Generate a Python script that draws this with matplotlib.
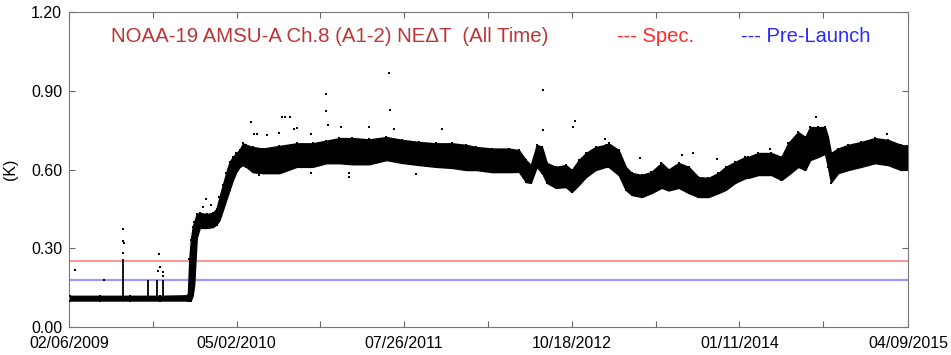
import numpy as np
import matplotlib
matplotlib.use("Agg")
import matplotlib.pyplot as plt

plt.rcParams["font.family"] = ["Liberation Sans", "DejaVu Sans"]

start = np.datetime64("2009-02-06")

# dense NEdT band: day offset from 02/06/2009, lower / upper edge of the cloud (K)
band_day = [3, 83, 163, 244, 319, 323, 327, 332, 336, 343, 351, 370, 386, 396,
            404, 413, 422, 431, 440, 449, 458, 467, 476, 493, 520, 565, 611, 654,
            691, 726, 761, 806, 852, 895, 940, 986, 1029, 1066, 1093, 1136, 1181,
            1208, 1227, 1240, 1256, 1270, 1283, 1307, 1334, 1350, 1369, 1388, 1414,
            1441, 1449, 1476, 1495, 1511, 1538, 1564, 1591, 1610, 1637, 1664, 1690,
            1717, 1744, 1763, 1789, 1816, 1824, 1851, 1886, 1913, 1931, 1958, 1977,
            1990, 2012, 2030, 2038, 2046, 2065, 2092, 2127, 2164, 2199, 2234, 2250]
band_lo = [0.100, 0.100, 0.100, 0.100, 0.100, 0.100, 0.100, 0.120, 0.160, 0.340,
           0.377, 0.377, 0.380, 0.390, 0.407, 0.445, 0.484, 0.522, 0.560, 0.590,
           0.610, 0.617, 0.610, 0.590, 0.586, 0.586, 0.610, 0.610, 0.624, 0.624,
           0.620, 0.620, 0.636, 0.625, 0.617, 0.610, 0.606, 0.598, 0.598, 0.590,
           0.590, 0.591, 0.552, 0.549, 0.610, 0.587, 0.549, 0.530, 0.533, 0.514,
           0.541, 0.571, 0.598, 0.610, 0.610, 0.579, 0.522, 0.503, 0.495, 0.510,
           0.530, 0.520, 0.530, 0.510, 0.495, 0.495, 0.510, 0.522, 0.549, 0.567,
           0.568, 0.579, 0.579, 0.560, 0.579, 0.610, 0.598, 0.636, 0.648, 0.660,
           0.610, 0.550, 0.586, 0.598, 0.610, 0.624, 0.617, 0.598, 0.600]
band_hi = [0.118, 0.118, 0.118, 0.118, 0.120, 0.260, 0.330, 0.380, 0.400, 0.430,
           0.434, 0.430, 0.435, 0.450, 0.495, 0.541, 0.587, 0.629, 0.648, 0.663,
           0.675, 0.700, 0.694, 0.686, 0.680, 0.690, 0.700, 0.700, 0.710, 0.720,
           0.720, 0.715, 0.724, 0.713, 0.705, 0.700, 0.700, 0.694, 0.686, 0.680,
           0.680, 0.674, 0.636, 0.617, 0.694, 0.686, 0.625, 0.610, 0.617, 0.598,
           0.636, 0.663, 0.686, 0.694, 0.700, 0.674, 0.610, 0.587, 0.579, 0.591,
           0.625, 0.600, 0.625, 0.610, 0.571, 0.568, 0.587, 0.610, 0.629, 0.648,
           0.648, 0.663, 0.663, 0.648, 0.700, 0.743, 0.724, 0.762, 0.762, 0.762,
           0.724, 0.663, 0.680, 0.694, 0.705, 0.720, 0.713, 0.694, 0.690]

# early spikes (vertical clusters of points)
spike_day = [145, 212, 236, 253]
spike_lo = [0.11, 0.11, 0.11, 0.11]
spike_hi = [0.26, 0.18, 0.18, 0.178]

# isolated points
out_day = [17, 94, 145, 145, 147, 145, 242, 244, 238, 253, 253, 361, 369, 382,
           488, 496, 504, 509, 532, 563, 571, 580, 594, 604, 613, 650, 650, 690,
           690, 696, 730, 753, 753, 806, 860, 862, 873, 931, 1001, 1272, 1272,
           1353, 1360, 1438, 1534, 1645, 1675, 1739, 1882, 2007, 2196]
out_val = [0.215, 0.177, 0.373, 0.327, 0.320, 0.280, 0.276, 0.229, 0.212, 0.207,
           0.195, 0.456, 0.486, 0.465, 0.780, 0.734, 0.734, 0.579, 0.730, 0.738,
           0.800, 0.800, 0.800, 0.755, 0.760, 0.734, 0.588, 0.888, 0.823, 0.770,
           0.763, 0.570, 0.585, 0.763, 0.970, 0.827, 0.755, 0.583, 0.753, 0.903,
           0.750, 0.763, 0.785, 0.716, 0.643, 0.655, 0.664, 0.641, 0.680, 0.800,
           0.734]

spec_value = 0.25
prelaunch_value = 0.177

tick_labels = ["02/06/2009", "05/02/2010", "07/26/2011", "10/18/2012",
               "01/11/2014", "04/09/2015"]
yticks = [0.0, 0.3, 0.6, 0.9, 1.2]

tick_dates = [np.datetime64("%s-%s-%s" % (t[6:], t[0:2], t[3:5])) for t in tick_labels]
minor_dates = [a + (b - a) // 2 for a, b in zip(tick_dates[:-1], tick_dates[1:])]

bd = start + np.array(band_day).astype("timedelta64[D]")
sd = start + np.array(spike_day).astype("timedelta64[D]")
od = start + np.array(out_day).astype("timedelta64[D]")

fig = plt.figure(figsize=(9.51, 3.55), dpi=100)
ax = fig.add_axes([0.0726, 0.0797, 0.8822, 0.8856])

ax.axhline(spec_value, color="#ff8a8a", lw=1.3, zorder=1)
ax.axhline(prelaunch_value, color="#9a9aff", lw=1.6, zorder=1)

ax.fill_between(bd, band_lo, band_hi, facecolor="black", edgecolor="black",
                lw=1.0, zorder=3)
ax.scatter(bd, band_lo, s=3, marker="s", color="black", lw=0, zorder=3)
ax.scatter(bd, band_hi, s=3, marker="s", color="black", lw=0, zorder=3)
ax.vlines(sd, spike_lo, spike_hi, color="#111111", lw=1.4, zorder=3)
ax.scatter(od, out_val, s=4, marker="s", color="black", lw=0, zorder=3)

ax.set_xlim(tick_dates[0], tick_dates[-1])
ax.set_ylim(0, 1.2)
ax.set_xticks(tick_dates)
ax.set_xticklabels(tick_labels)
ax.set_xticks(minor_dates, minor=True)
ax.set_yticks(yticks)
ax.set_yticklabels(["%.2f" % v for v in yticks])
ax.tick_params(which="both", direction="in", top=True, right=True, length=4,
               width=0.8, color="#666666", labelsize=11.5)
ax.tick_params(axis="x", pad=7)
ax.tick_params(axis="y", pad=5)
for s in ax.spines.values():
    s.set_color("#777777")
    s.set_linewidth(0.8)
ax.set_ylabel("(K)", fontsize=11.5, labelpad=9)

fig.text(111 / 951, 1 - 37 / 355, "NOAA-19 AMSU-A Ch.8 (A1-2) NE\u0394T  (All Time)",
         color="#bd3434", fontsize=14.7, va="center", ha="left")
fig.text(617 / 951, 1 - 37 / 355, "--- Spec.", color="#ff2a2a", fontsize=14.5,
         va="center", ha="left")
fig.text(741 / 951, 1 - 37 / 355, "--- Pre-Launch", color="#2a2aff", fontsize=14.5,
         va="center", ha="left")

fig.savefig("out.png", dpi=100)
